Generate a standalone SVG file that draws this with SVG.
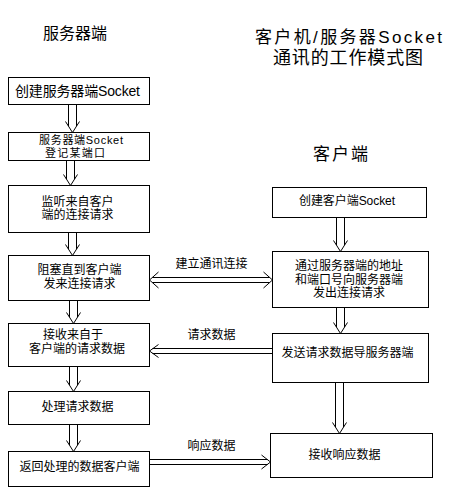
<svg xmlns="http://www.w3.org/2000/svg" width="451" height="488" viewBox="0 0 451 488">
<style>
.box{fill:#fff;stroke:#000;stroke-width:1}
.ar{fill:none;stroke:#000;stroke-width:1}
text{font-family:"Liberation Sans","Noto Sans CJK SC",sans-serif;font-size:12px;fill:#000;text-anchor:middle;dominant-baseline:central}
.t16{font-size:16px}
.t17{font-size:17px}
.t18{font-size:18px}
.t14{font-size:14px}
.s{font-size:11px}
</style>
<rect width="451" height="488" fill="#fff"/>
<g id="titles">
<text class="t16" x="75" y="33">服务器端</text>
<text class="t17" x="348.5" y="37" textLength="187">客户机/服务器Socket</text>
<text class="t18" x="348" y="58" textLength="150">通讯的工作模式图</text>
<text class="t17" x="340.5" y="154" textLength="55">客户端</text>
</g>
<g id="connectors">
<path class="ar" d="M68.5 104.5V126M76.5 104.5V126M65.5 121.5L72.5 132.5L79.5 121.5"/>
<path class="ar" d="M66.5 160.5V179M74.5 160.5V179M63.5 174.5L70.5 185.5L77.5 174.5"/>
<path class="ar" d="M68.5 232.5V249M76.5 232.5V249M65.5 244.5L72.5 255.5L79.5 244.5"/>
<path class="ar" d="M69.5 300.5V317M77.5 300.5V317M66.5 312.5L73.5 323.5L80.5 312.5"/>
<path class="ar" d="M69.5 366.5V385M77.5 366.5V385M66.5 380.5L73.5 391.5L80.5 380.5"/>
<path class="ar" d="M69.5 424.5V445M77.5 424.5V445M66.5 440.5L73.5 451.5L80.5 440.5"/>
<path class="ar" d="M336.5 217.5V245M344.5 217.5V245M333.5 240.5L340.5 251.5L347.5 240.5"/>
<path class="ar" d="M336.5 307.5V327M344.5 307.5V327M333.5 322.5L340.5 333.5L347.5 322.5"/>
<path class="ar" d="M335.5 382.5V427M343.5 382.5V427M332.5 422.5L339.5 433.5L346.5 422.5"/>
<path class="ar" d="M152.5 277.5H269.5M152.5 282.5H269.5M158.5 272L149.5 280L158.5 288M263.5 272L272.5 280L263.5 288"/>
<path class="ar" d="M152.5 348.5H272.5M152.5 353.5H272.5M158.5 344.5L149.5 351L158.5 357.5"/>
<path class="ar" d="M149.5 459.5H267.5M149.5 464.5H267.5M261.5 455L270.5 462L261.5 469"/>
<text x="211.5" y="264">建立通讯连接</text>
<text x="211.5" y="335">请求数据</text>
<text x="211.5" y="446">响应数据</text>
</g>
<g id="s1"><rect class="box" x="8.5" y="77.5" width="141" height="27"/><text class="t14" x="77.5" y="91" textLength="125">创建服务器端Socket</text></g>
<g id="s2"><rect class="box" x="8.5" y="132.5" width="141" height="28"/><text class="s" x="81" y="139.5" textLength="84">服务器端Socket</text><text class="s" x="75" y="152.5" textLength="60">登记某端口</text></g>
<g id="s3"><rect class="box" x="8.5" y="185.5" width="141" height="47"/><text x="77.5" y="201.5">监听来自客户</text><text x="77.5" y="215">端的连接请求</text></g>
<g id="s4"><rect class="box" x="8.5" y="255.5" width="141" height="45"/><text x="79.5" y="270">阻塞直到客户端</text><text x="79.5" y="284">发来连接请求</text></g>
<g id="s5"><rect class="box" x="8.5" y="323.5" width="141" height="43"/><text x="73" y="334.5">接收来自于</text><text x="77" y="348.5">客户端的请求数据</text></g>
<g id="s6"><rect class="box" x="8.5" y="391.5" width="141" height="33"/><text x="77.5" y="407">处理请求数据</text></g>
<g id="s7"><rect class="box" x="8.5" y="451.5" width="141" height="35"/><text x="79.5" y="467">返回处理的数据客户端</text></g>
<g id="c1"><rect class="box" x="272.5" y="187.5" width="154" height="30"/><text x="347" y="200.5" textLength="96">创建客户端Socket</text></g>
<g id="c2"><rect class="box" x="272.5" y="251.5" width="156" height="56"/><text x="349" y="266">通过服务器端的地址</text><text x="349" y="279.5">和端口号向服务器端</text><text x="349" y="293">发出连接请求</text></g>
<g id="c3"><rect class="box" x="272.5" y="333.5" width="156" height="49"/><text x="347.5" y="353">发送请求数据导服务器端</text></g>
<g id="c4"><rect class="box" x="270.5" y="433.5" width="162" height="44"/><text x="344.5" y="455">接收响应数据</text></g>
</svg>
